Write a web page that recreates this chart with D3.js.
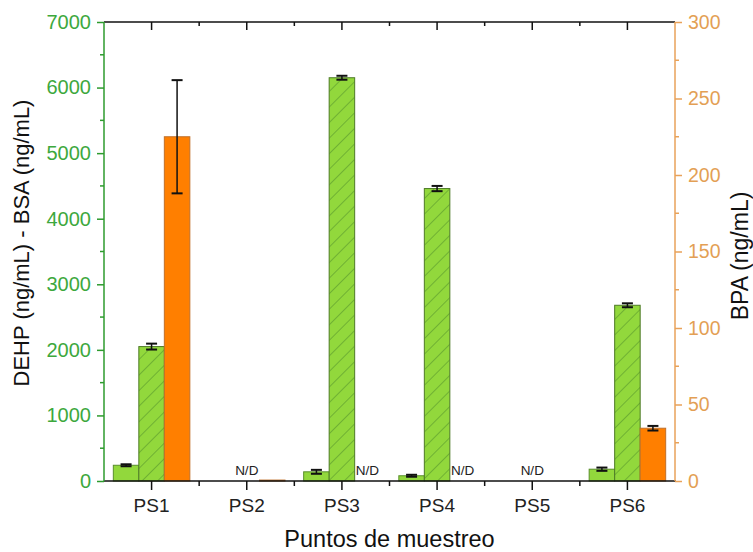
<!DOCTYPE html>
<html>
<head>
<meta charset="utf-8">
<script src="https://cdn.jsdelivr.net/npm/d3@7"></script>
<style>
  body { margin: 0; background: #fff; }
  svg { font-family: Arial, "Liberation Sans", sans-serif; }
</style>
</head>
<body>
<div id="chart"></div>
<script>
// sampling points
const categories = ['PS1', 'PS2', 'PS3', 'PS4', 'PS5', 'PS6']
// left axis series (ng/mL)
const dehp = [240, null, 140, 80, null, 180]
const dehpErr = [15, null, 30, 15, null, 25]
const bsa = [2050, null, 6150, 4460, null, 2680]
const bsaErr = [45, null, 30, 40, null, 30]
// right axis series (ng/mL)
const bpa = [225, 0.6, null, null, null, 34.5]
const bpaErr = [37, 0, null, null, null, 1.5]
// not detected labels: [category, slot]
const notDetected = [['PS2', 1], ['PS3', 2], ['PS4', 2], ['PS5', 1]]
const leftTicks = [0, 1000, 2000, 3000, 4000, 5000, 6000, 7000]
const rightTicks = [0, 50, 100, 150, 200, 250, 300]

const W = 753, H = 552
const m = {left: 104, right: 675, top: 22, bottom: 481}
const green = '#3da83d', greenLine = '#2e9b2e'
const orangeAx = '#e8a25a', orangeTxt = '#e39f55'
const FONT = 'Arial, "Liberation Sans", sans-serif'

const svg = d3.select('#chart').append('svg')
  .attr('width', W).attr('height', H)

const defs = svg.append('defs')
const pat = defs.append('pattern')
  .attr('id', 'hatch')
  .attr('patternUnits', 'userSpaceOnUse')
  .attr('width', 11).attr('height', 11)
  .attr('patternTransform', 'rotate(45)')
pat.append('rect').attr('width', 11).attr('height', 11).attr('fill', '#92d83c')
pat.append('line').attr('x1', 0).attr('y1', 0).attr('x2', 0).attr('y2', 11)
  .attr('stroke', '#4d8a2a').attr('stroke-width', 1)

const x0 = d3.scaleBand().domain(categories).range([m.left, m.right])
const slots = [0, 1, 2]
const x1 = d3.scaleBand().domain(slots).range([x0.bandwidth() * 0.098, x0.bandwidth() * 0.902])
const yL = d3.scaleLinear().domain([0, 7000]).range([m.bottom, m.top])
const yR = d3.scaleLinear().domain([0, 300]).range([m.bottom, m.top])

const series = [
  {vals: dehp, err: dehpErr, y: yL, fill: '#92d83c', stroke: '#5a8f2c'},
  {vals: bsa, err: bsaErr, y: yL, fill: 'url(#hatch)', stroke: '#4d7a26'},
  {vals: bpa, err: bpaErr, y: yR, fill: '#ff7f00', stroke: '#c0702a'}
]

const bars = svg.append('g')
series.forEach((s, si) => {
  categories.forEach((c, ci) => {
    const v = s.vals[ci]
    if (v == null) return
    const bx = x0(c) + x1(si)
    bars.append('rect')
      .attr('x', bx).attr('y', s.y(v))
      .attr('width', x1.bandwidth()).attr('height', s.y(0) - s.y(v))
      .attr('fill', s.fill).attr('stroke', s.stroke).attr('stroke-width', 1)
  })
})
series.forEach((s, si) => {
  categories.forEach((c, ci) => {
    const v = s.vals[ci], e = s.err[ci]
    if (v == null || !e) return
    const cx = x0(c) + x1(si) + x1.bandwidth() / 2
    const g = bars.append('g').attr('stroke', '#111').attr('stroke-width', 1.5)
    g.append('line').attr('x1', cx).attr('x2', cx).attr('y1', s.y(v - e)).attr('y2', s.y(v + e))
    g.append('line').attr('x1', cx - 5.5).attr('x2', cx + 5.5).attr('y1', s.y(v - e)).attr('y2', s.y(v - e)).attr('stroke-width', 2)
    g.append('line').attr('x1', cx - 5.5).attr('x2', cx + 5.5).attr('y1', s.y(v + e)).attr('y2', s.y(v + e)).attr('stroke-width', 2)
  })
})

svg.append('g').selectAll('text')
  .data(notDetected)
  .enter().append('text')
  .attr('x', d => x0(d[0]) + x1(d[1]) + x1.bandwidth() / 2)
  .attr('y', m.bottom - 6)
  .attr('text-anchor', 'middle')
  .attr('font-size', 13.5).attr('fill', '#222')
  .text('N/D')

// axes
const catTicks = categories.map(c => x0(c) + x0.bandwidth() / 2)
const bounds = categories.map(c => x0(c)).concat([m.right])

const bottomAx = svg.append('g').attr('stroke', '#111').attr('stroke-width', 1.5)
bottomAx.append('line').attr('x1', m.left).attr('x2', m.right + 1).attr('y1', m.bottom).attr('y2', m.bottom)
catTicks.forEach(t => bottomAx.append('line').attr('x1', t).attr('x2', t).attr('y1', m.bottom).attr('y2', m.bottom + 9))
bounds.slice(1, -1).forEach(t => bottomAx.append('line').attr('x1', t).attr('x2', t).attr('y1', m.bottom).attr('y2', m.bottom + 5))

const topAx = svg.append('g').attr('stroke', '#111').attr('stroke-width', 1.5)
topAx.append('line').attr('x1', m.left).attr('x2', m.right).attr('y1', m.top).attr('y2', m.top)
catTicks.forEach(t => topAx.append('line').attr('x1', t).attr('x2', t).attr('y1', m.top).attr('y2', m.top + 8))
bounds.slice(1, -1).forEach(t => topAx.append('line').attr('x1', t).attr('x2', t).attr('y1', m.top).attr('y2', m.top + 4))

svg.append('g').selectAll('text')
  .data(categories)
  .enter().append('text')
  .attr('x', c => x0(c) + x0.bandwidth() / 2)
  .attr('y', 512)
  .attr('text-anchor', 'middle')
  .attr('font-size', 19).attr('fill', '#222')
  .text(c => c)

// left axis
const leftAx = svg.append('g').attr('transform', `translate(${m.left},0)`)
  .call(d3.axisLeft(yL).tickValues(leftTicks).tickSize(7).tickPadding(6).tickFormat(d3.format('d')))
leftAx.call(g => g.selectAll('.tick line').attr('stroke', greenLine).attr('stroke-width', 1.5))
leftAx.call(g => g.select('.domain').attr('stroke', greenLine).attr('stroke-width', 1.5).attr('d', `M0,${m.top}V${m.bottom}`))
leftAx.call(g => g.selectAll('text').attr('fill', green).attr('font-size', 20).attr('font-family', FONT))
d3.range(500, 7000, 1000).forEach(v => leftAx.append('line')
  .attr('x1', 0).attr('x2', -4).attr('y1', yL(v)).attr('y2', yL(v))
  .attr('stroke', greenLine).attr('stroke-width', 1.5))

// right axis
const rightAx = svg.append('g').attr('transform', `translate(${m.right},0)`)
  .call(d3.axisRight(yR).tickValues(rightTicks).tickSize(7).tickPadding(6))
rightAx.call(g => g.selectAll('.tick line').attr('stroke', orangeAx).attr('stroke-width', 1.5))
rightAx.call(g => g.select('.domain').attr('stroke', orangeAx).attr('stroke-width', 1.5).attr('d', `M0,${m.top}V${m.bottom}`))
rightAx.call(g => g.selectAll('text').attr('fill', orangeTxt).attr('font-size', 19.5).attr('font-family', FONT))
d3.range(25, 300, 50).forEach(v => rightAx.append('line')
  .attr('x1', 0).attr('x2', 4).attr('y1', yR(v)).attr('y2', yR(v))
  .attr('stroke', orangeAx).attr('stroke-width', 1.5))

// titles
svg.append('text')
  .attr('transform', 'translate(29,243) rotate(-90)')
  .attr('text-anchor', 'middle').attr('font-size', 22).attr('fill', '#111')
  .text('DEHP (ng/mL) - BSA (ng/mL)')
svg.append('text')
  .attr('transform', 'translate(748,256) rotate(-90)')
  .attr('text-anchor', 'middle').attr('font-size', 23).attr('fill', '#111')
  .text('BPA (ng/mL)')
svg.append('text')
  .attr('x', (m.left + m.right) / 2).attr('y', 547)
  .attr('text-anchor', 'middle').attr('font-size', 23.5).attr('fill', '#111')
  .text('Puntos de muestreo')
</script>
</body>
</html>
